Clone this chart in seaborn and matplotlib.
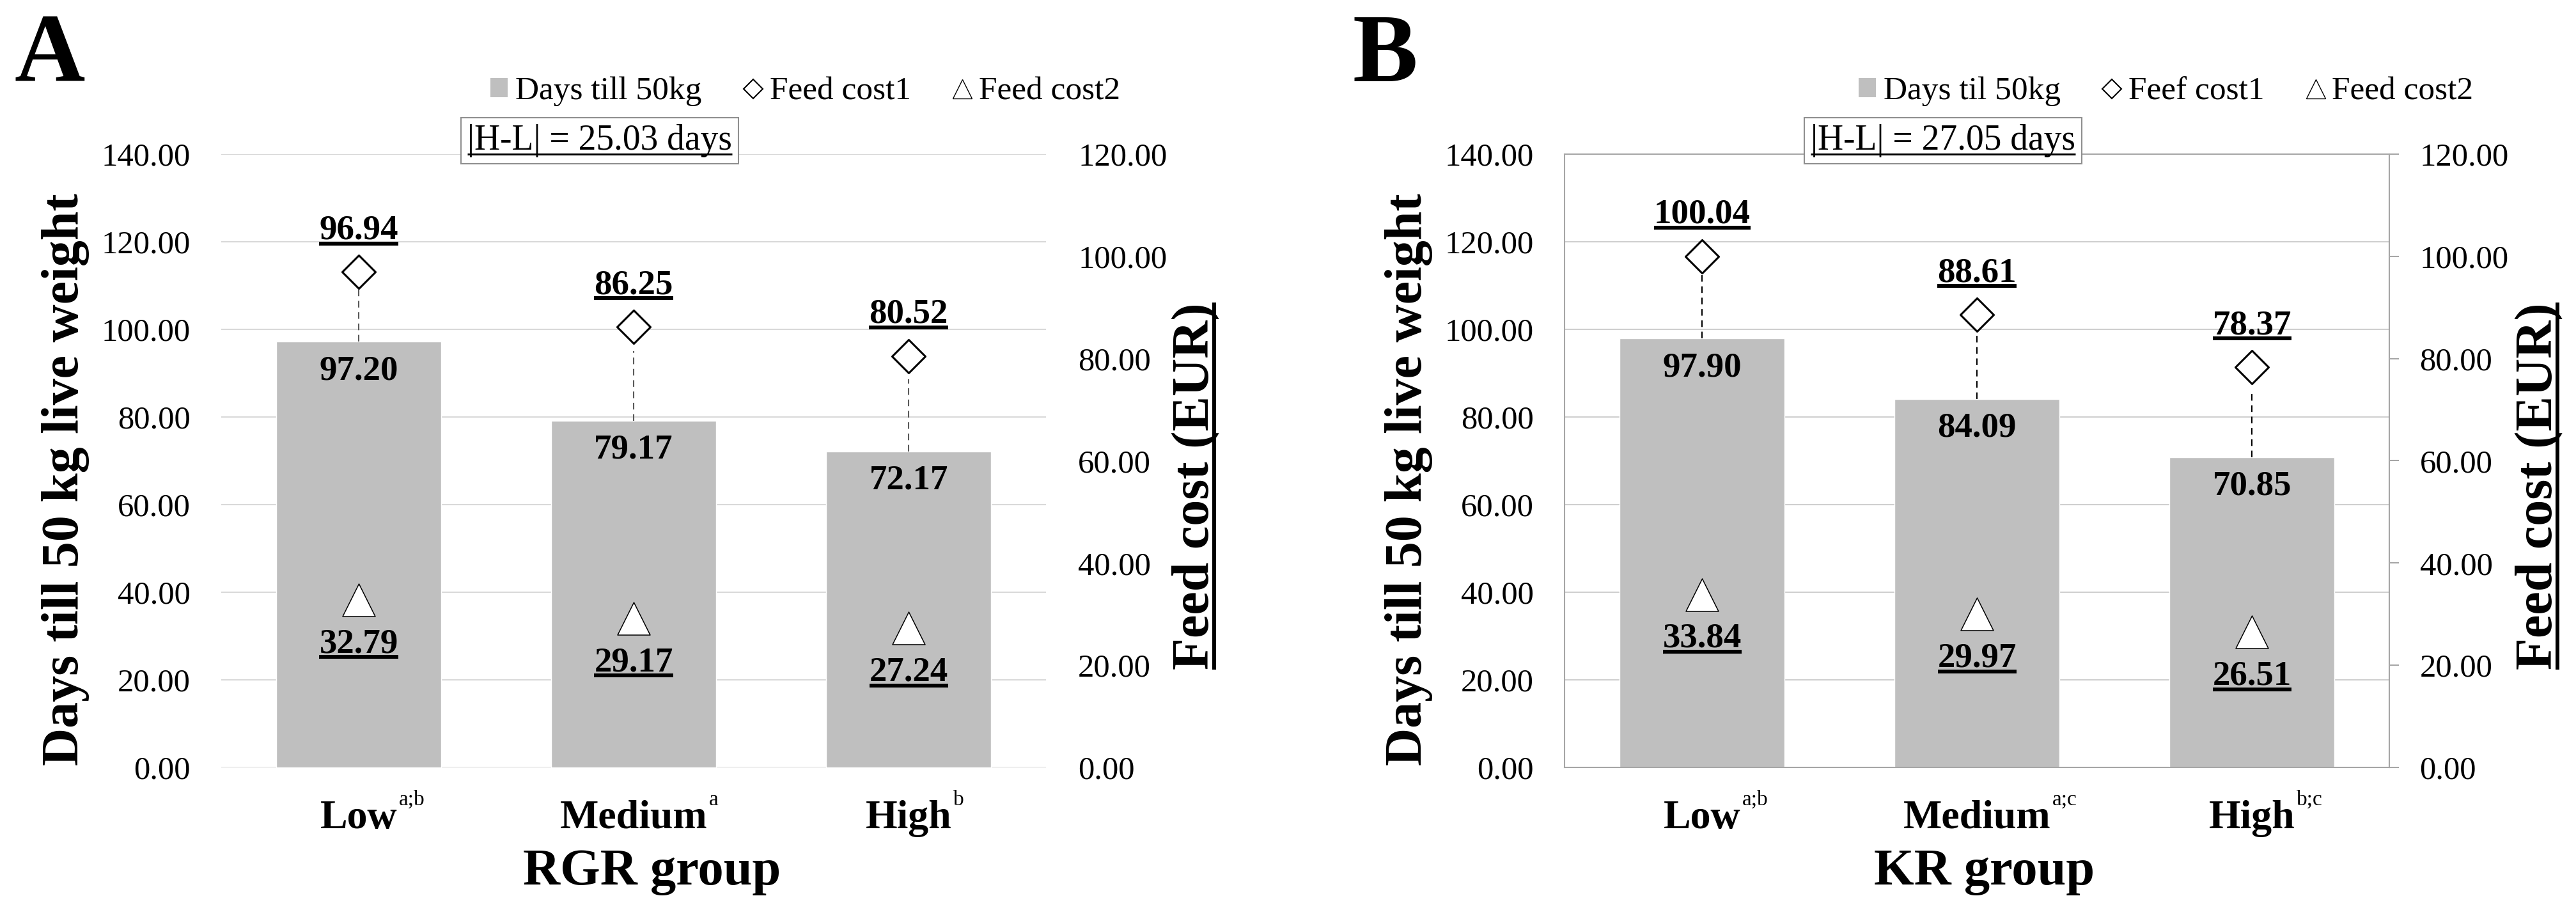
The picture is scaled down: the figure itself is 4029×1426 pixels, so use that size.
import matplotlib
matplotlib.use("Agg")
import matplotlib.pyplot as plt
import matplotlib.transforms as mtransforms
from matplotlib.lines import Line2D
from matplotlib.patches import Patch
import pandas as pd
import seaborn as sns

# Data
groups = ["Low", "Medium", "High"]

rgr_sup = ["a;b", "a", "b"]
rgr_days = [97.20, 79.17, 72.17]
rgr_cost1 = [96.94, 86.25, 80.52]
rgr_cost2 = [32.79, 29.17, 27.24]
rgr_dash = [12.1, 15.9, 16.4]          # length of dashed line above each bar (days)
rgr_diff = "|H-L| = 25.03 days"
rgr_legend = ["Days till 50kg", "Feed cost1", "Feed cost2"]

kr_sup = ["a;b", "a;c", "b;c"]
kr_days = [97.90, 84.09, 70.85]
kr_cost1 = [100.04, 88.61, 78.37]
kr_cost2 = [33.84, 29.97, 26.51]
kr_dash = [15.1, 15.3, 14.4]
kr_diff = "|H-L| = 27.05 days"
kr_legend = ["Days til 50kg", "Feef cost1", "Feed cost2"]

days_ticks = [0, 20, 40, 60, 80, 100, 120, 140]
cost_ticks = [0, 20, 40, 60, 80, 100, 120]

BAR = "#bfbfbf"

sns.set_style("white")
plt.rcParams["font.family"] = ["Liberation Serif", "DejaVu Serif"]
plt.rcParams["text.color"] = "black"
plt.rcParams["axes.labelcolor"] = "black"
plt.rcParams["xtick.color"] = "black"
plt.rcParams["ytick.color"] = "black"

fig = plt.figure(figsize=(40.29, 14.26), dpi=100)
to_underline = []


def draw_panel(left, days, cost1, cost2, dash, sups, diff, legend_labels, xlabel,
               xlabel_x, legend_x, framed):
    ax = fig.add_axes([left, 0.1585, 0.3202, 0.6725])
    df = pd.DataFrame({"group": groups, "days": days})
    sns.barplot(data=df, x="group", y="days", color=BAR, saturation=1, width=0.6,
                errorbar=None, ax=ax, zorder=2)
    ax.set_ylim(0, 140)
    ax.set_yticks(days_ticks)
    ax.set_yticklabels([f"{t:.2f}" for t in days_ticks], fontsize=36.5)
    ax.set_xticks([0, 1, 2])
    ax.set_xticklabels([])
    ax.set_xlabel("")
    ax.set_ylabel("")
    ax.yaxis.grid(True, color="#d9d9d9" if not framed else "#cfcfcf", lw=1.5)
    ax.xaxis.grid(False)
    ax.set_axisbelow(True)
    ax.tick_params(axis="y", length=0, pad=35, labelcolor="black")
    ax.tick_params(axis="x", length=0)

    # dashed lines above bars
    ax.vlines([0, 1, 2], days, [d + e for d, e in zip(days, dash)],
              colors="#595959" if not framed else "black",
              linestyles=(0, (5, 3.5)), lw=1.5, zorder=3)

    for i, v in enumerate(days):
        ax.annotate(f"{v:.2f}", xy=(i, v), xytext=(0, -33), textcoords="offset points",
                    ha="center", va="center", fontsize=39.5, fontweight="bold", zorder=6)

    ax2 = ax.twinx()
    sns.scatterplot(x=[0, 1, 2], y=cost1, marker="D", s=702, color="white",
                    edgecolor="black", linewidth=2.2, ax=ax2, zorder=4, legend=False)
    sns.scatterplot(x=[0, 1, 2], y=cost2, marker="^", s=1347, color="white",
                    edgecolor="black", linewidth=1.1, ax=ax2, zorder=4, legend=False)
    ax2.set_ylim(0, 120)
    ax2.set_yticks(cost_ticks)
    ax2.set_yticklabels([f"{t:.2f}" for t in cost_ticks], fontsize=36.5)
    ax2.set_ylabel("")
    ax2.grid(False)
    for i, v in enumerate(cost1):
        t = ax2.annotate(f"{v:.2f}", xy=(i, v), xytext=(0, 46.5), textcoords="offset points",
                         ha="center", va="center", fontsize=39.5, fontweight="bold", zorder=6)
        to_underline.append((t, 4.3))
    for i, v in enumerate(cost2):
        t = ax2.annotate(f"{v:.2f}", xy=(i, v), xytext=(0, -50), textcoords="offset points",
                         ha="center", va="center", fontsize=39.5, fontweight="bold", zorder=6)
        to_underline.append((t, 4.3))
    ax.set_xlim(-0.5, 2.5)
    ax2.set_xlim(-0.5, 2.5)

    for s in ax2.spines.values():
        s.set_visible(False)
    if framed:
        for s in ax.spines.values():
            s.set_visible(True)
            s.set_color("#a6a6a6")
            s.set_linewidth(1.5)
        ax2.tick_params(axis="y", length=11, width=1.5, color="#a6a6a6", pad=23,
                        labelcolor="black")
    else:
        for s in ax.spines.values():
            s.set_visible(False)
        ax2.tick_params(axis="y", length=0, pad=36, labelcolor="black")

    # category labels with superscripts
    trans = mtransforms.blended_transform_factory(ax.transData, ax.transAxes)
    for i, (g, sup) in enumerate(zip(groups, sups)):
        base = ax.text(i, -0.099, g, transform=trans, ha="center", va="baseline",
                       fontsize=46, fontweight="bold")
        ax.annotate(sup, xy=(1, 0), xycoords=base, xytext=(2, 36),
                    textcoords="offset points", ha="left", va="baseline", fontsize=24)

    ax.text(xlabel_x, -0.191, xlabel, transform=ax.transAxes, ha="center", va="baseline",
            fontsize=58, fontweight="bold")
    ax.text(-0.189, 0.47, "Days till 50 kg live weight", transform=ax.transAxes,
            rotation=90, ha="center", va="center", fontsize=59, fontweight="bold")
    t = ax.text(1.211, 0.459, "Feed cost (EUR)", transform=ax.transAxes,
                rotation=90, ha="right", va="center", fontsize=59, fontweight="bold")
    to_underline.append((t, 4.3))

    t = ax.text(0.459, 1.022, diff, transform=ax.transAxes, ha="center", va="center",
                fontsize=40, zorder=7,
                bbox=dict(boxstyle="square,pad=0.18", fc="white", ec="#8f8f8f", lw=1.5))
    to_underline.append((t, 2.2))

    handles = [
        Patch(facecolor=BAR, edgecolor="none"),
        Line2D([], [], ls="none", marker="D", ms=15, mfc="white", mec="black", mew=1.5),
        Line2D([], [], ls="none", marker="^", ms=22, mfc="white", mec="black", mew=1.0),
    ]
    ax.legend(handles, legend_labels, ncol=3, loc="center", bbox_to_anchor=(legend_x, 1.102),
              frameon=False, fontsize=37, handlelength=0.52, handleheight=0.53,
              handletextpad=0.24, columnspacing=1.3, borderpad=0, borderaxespad=0)
    return ax


draw_panel(0.0859, rgr_days, rgr_cost1, rgr_cost2, rgr_dash, rgr_sup, rgr_diff,
           rgr_legend, "RGR group", 0.522, 0.708, framed=False)
draw_panel(0.6074, kr_days, kr_cost1, kr_cost2, kr_dash, kr_sup, kr_diff,
           kr_legend, "KR group", 0.509, 0.729, framed=True)

fig.text(0.0057, 0.911, "A", ha="left", va="baseline", fontsize=110, fontweight="bold")
fig.text(0.525, 0.911, "B", ha="left", va="baseline", fontsize=110, fontweight="bold")

# underline the marked texts (matplotlib has no underline property)
fig.canvas.draw()
renderer = fig.canvas.get_renderer()
for t, lw in to_underline:
    bb = t.get_window_extent(renderer)
    em = t.get_fontsize() * fig.dpi / 72
    if t.get_rotation() == 90:
        x = bb.x1 - 0.11 * em
        xs, ys = [x, x], [bb.y0, bb.y1]
    else:
        y = bb.y0 + 0.09 * em
        xs, ys = [bb.x0, bb.x1], [y, y]
    fig.add_artist(Line2D(xs, ys, transform=mtransforms.IdentityTransform(),
                          color="black", lw=lw, solid_capstyle="butt", zorder=10))

fig.savefig("out.png", dpi=100)
